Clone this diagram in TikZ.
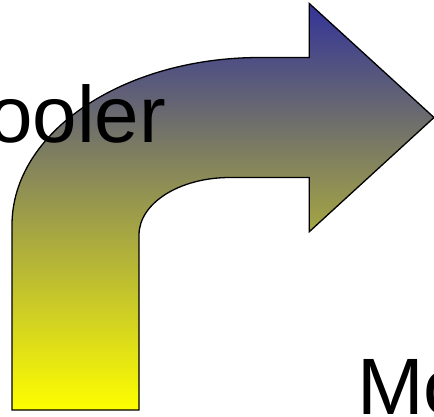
\documentclass[tikz,border=0pt]{standalone}
\usepackage{fontspec}
\setmainfont{Liberation Sans}
\definecolor{arrowtop}{RGB}{51,51,153}
\definecolor{arrowbottom}{RGB}{255,255,0}
\tikzset{
  bentarrow/.style={draw=black, line width=1.3pt, line join=miter,
    top color=arrowtop, bottom color=arrowbottom},
  bigtext/.style={font=\fontsize{80}{96}\selectfont, inner sep=0pt, anchor=base west, text=black}
}
\begin{document}
\begin{tikzpicture}[x=1pt, y=-1pt]
\useasboundingbox (0,0) rectangle (434,416);
\clip (0,0) rectangle (434,416);
\path[bentarrow] (12,410) -- (12,225)
  .. controls (12,132.2) and (123,57.5) .. (260,57.5)
  -- (309.3,57.5) -- (309.3,3.5) -- (434,117.5) -- (309.3,231.7) -- (309.3,177.5)
  -- (230,177.5) .. controls (179.7,177.5) and (139,203) .. (139,235)
  -- (139,410) -- cycle;
\node[bigtext] (cooler) at (-12,142) {ooler};
\node[bigtext] (more) at (357,414) {Mo};
\end{tikzpicture}
\end{document}
